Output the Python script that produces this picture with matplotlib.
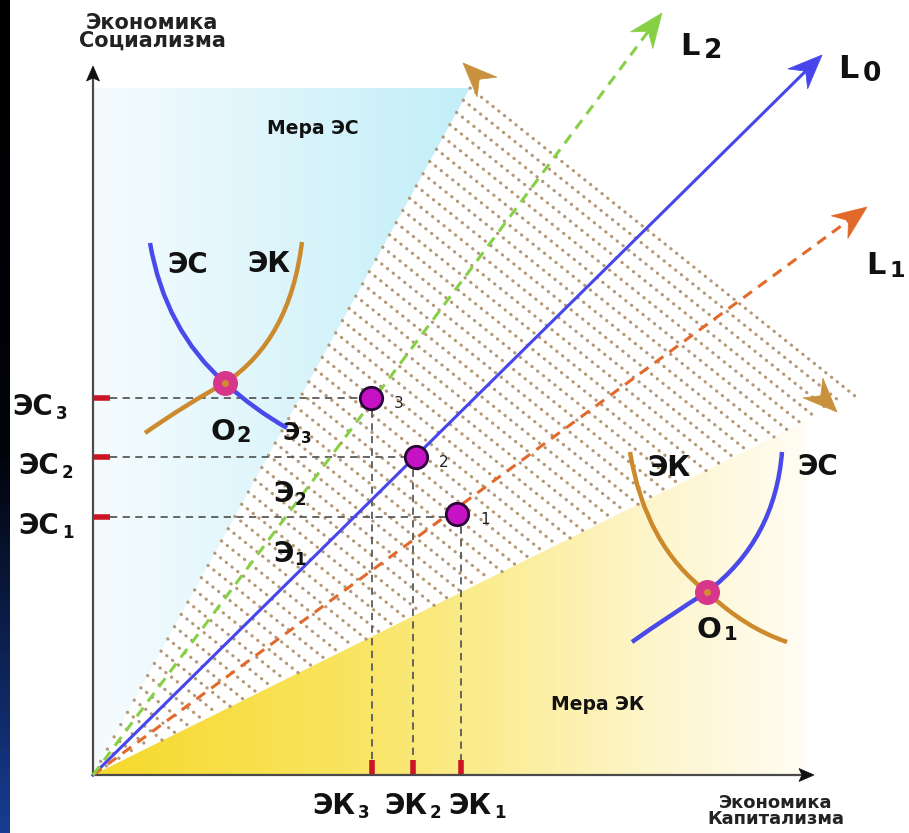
import numpy as np
import matplotlib
matplotlib.use("Agg")
import matplotlib.pyplot as plt
from matplotlib.path import Path
from matplotlib.patches import PathPatch, Polygon
from matplotlib.colors import LinearSegmentedColormap

plt.rcParams["font.family"] = ["DejaVu Sans"]

# diagram geometry (pixel coordinates, y grows downward)
origin = (93, 775)
y_axis_tip = (93, 66)
x_axis_tip = (814, 775)
cyan_apex = (470, 88)        # upper corner of "Мера ЭС"
yellow_end = (808, 420)      # right end of the "Мера ЭК" boundary

ray_names = ["L0", "L1", "L2"]
ray_tips = [(822, 55), (867, 207), (662, 13)]
ray_colors = ["#4646ec", "#e2692a", "#86d046"]

brown_tips = [(463, 63), (837, 412)]
brown_dirs = [(-1, -1), (1, 1)]

point_names = ["1", "2", "3"]
point_x = [457, 416, 371]
point_y = [514, 457, 398]
ek_ticks = [461, 413, 372]
es_ticks = [517, 457, 398]
ek_labels = ["1", "2", "3"]
es_labels = ["1", "2", "3"]

# indifference curves: start, control, O-point, control, end
o2_es = [(150, 243), (165, 330), (225, 383), (255, 410), (287, 428)]
o2_ek = [(302, 242), (290, 340), (225, 383), (185, 405), (145, 433)]
o1_ek = [(630, 452), (645, 545), (707, 592), (745, 628), (787, 642)]
o1_es = [(782, 452), (775, 540), (707, 592), (670, 615), (632, 642)]

W, H = 909, 833
ink = "#111111"

fig = plt.figure(figsize=(W / 100, H / 100), dpi=100)
ax = fig.add_axes([0, 0, 1, 1])
ax.set_xlim(0, W)
ax.set_ylim(H, 0)
ax.axis("off")
renderer = fig.canvas.get_renderer()

# dark strip on the left edge
strip = LinearSegmentedColormap.from_list("strip", [(0, "#000000"), (0.55, "#02040c"), (1, "#173c92")])
ax.imshow(np.linspace(0, 1, 200).reshape(-1, 1), cmap=strip, extent=(0, 10, H, 0),
          aspect="auto", zorder=0)

# "Мера ЭС" cyan wedge
cyan = LinearSegmentedColormap.from_list("cyan", ["#f6fcfe", "#dcf5fb", "#c2eef8"])
tri = Polygon([origin, (origin[0], cyan_apex[1]), cyan_apex], closed=True, fc="none", ec="none")
ax.add_patch(tri)
img = ax.imshow(np.linspace(0, 1, 200).reshape(1, -1), cmap=cyan,
                extent=(origin[0], cyan_apex[0], origin[1], cyan_apex[1]), aspect="auto", zorder=1)
img.set_clip_path(tri)

# "Мера ЭК" yellow wedge
yellow = LinearSegmentedColormap.from_list("yellow", [(0, "#f6d92c"), (0.35, "#f9e45e"),
                                                      (0.75, "#fdf4c4"), (1, "#fffdf4")])
tri2 = Polygon([origin, yellow_end, (yellow_end[0], origin[1])], closed=True, fc="none", ec="none")
ax.add_patch(tri2)
img2 = ax.imshow(np.linspace(0, 1, 200).reshape(1, -1), cmap=yellow,
                 extent=(origin[0], yellow_end[0], origin[1], yellow_end[1]), aspect="auto", zorder=1)
img2.set_clip_path(tri2)

# dotted hatching between the two wedges
o = np.array(origin, float)
a = np.array(cyan_apex, float)
e = np.array(yellow_end, float) - o
d = np.array([1.0, 0.8])
for t in np.linspace(0.02, 1.0, 56):
    p = o + t * (a - o)
    s, r = np.linalg.solve(np.column_stack([d, -e]), o - p)
    q = p + s * d
    ax.plot([p[0], q[0]], [p[1], q[1]], color="#a8875f", lw=2.3, alpha=0.85,
            ls=(0, (0.1, 2.2)), dash_capstyle="round", zorder=2)


def arrow_head(tip, direction, color, length=34, half=14, notch=11, z=6):
    u = np.array(direction, float)
    u /= np.hypot(*u)
    n = np.array([-u[1], u[0]])
    tip = np.array(tip, float)
    base = tip - u * length
    pts = [tip, base + n * half, tip - u * (length - notch), base - n * half]
    ax.add_patch(Polygon(pts, closed=True, fc=color, ec=color, lw=0.5, zorder=z))
    return tip - u * (length - notch)


for tip, dr in zip(brown_tips, brown_dirs):
    arrow_head(tip, dr, "#c8913e", z=3)

# guide lines to the axes
for px, py, ex, ey in zip(point_x, point_y, ek_ticks, es_ticks):
    ax.plot([110, px], [ey, ey], color="#5a5a5a", lw=1.3, ls=(0, (4, 3)), zorder=3)
    ax.plot([ex, ex], [py, 760], color="#5a5a5a", lw=1.3, ls=(0, (4, 3)), zorder=3)
    ax.plot([origin[0], 110], [ey, ey], color="#cc1424", lw=4, solid_capstyle="butt", zorder=4)
    ax.plot([ex, ex], [760, origin[1]], color="#cc1424", lw=4, solid_capstyle="butt", zorder=4)

# axes
ax.plot([origin[0], y_axis_tip[0]], [origin[1], y_axis_tip[1] + 10], color="#4a4a4a", lw=1.6, zorder=5)
ax.plot([origin[0], x_axis_tip[0] - 10], [origin[1], origin[1]], color="#4a4a4a", lw=1.6, zorder=5)
arrow_head(y_axis_tip, (0, -1), "#111111", length=15, half=6.5, notch=3)
arrow_head(x_axis_tip, (1, 0), "#111111", length=15, half=6.5, notch=3)

# rays L0, L1, L2
for name, tip, col in zip(ray_names, ray_tips, ray_colors):
    end = arrow_head(tip, np.subtract(tip, origin), col)
    style = "-" if name == "L0" else (0, (3.5, 2.5))
    ax.plot([origin[0], end[0]], [origin[1], end[1]], color=col, lw=2.2, ls=style, zorder=5)

# curves ЭС / ЭК around O2 and O1
codes = [Path.MOVETO, Path.CURVE3, Path.CURVE3, Path.CURVE3, Path.CURVE3]
for pts, col in [(o2_es, "#4a4aea"), (o2_ek, "#cd8a2c"), (o1_ek, "#cd8a2c"), (o1_es, "#4a4aea")]:
    ax.add_patch(PathPatch(Path(pts, codes), fc="none", ec=col, lw=3.2, capstyle="butt", zorder=7))

for pts in (o2_es, o1_es):
    ax.plot(*pts[2], "o", ms=17, mfc="#d8368a", mec="#d8368a", zorder=8)
    ax.plot(*pts[2], "o", ms=5, mfc="#d28a34", mec="none", zorder=9)

# equilibrium points 1, 2, 3
ax.scatter(point_x, point_y, s=260, c="#c412c4", edgecolors="#2a0636", linewidths=2, zorder=9)
for name, px, py in zip(point_names, point_x, point_y):
    ax.text(px + 23, py + 5, name, fontsize=11, color="#222222", ha="left", va="center", zorder=9)


def sub_text(x, y, main, sub, size, sub_size, gap=3, drop=4, z=10):
    t = ax.text(x, y, main, fontsize=size, fontweight="bold", color=ink,
                ha="left", va="baseline", zorder=z)
    w = t.get_window_extent(renderer).width
    ax.text(x + w + gap, y + drop, sub, fontsize=sub_size, fontweight="bold", color=ink,
            ha="left", va="baseline", zorder=z)


for ey, lab, lx in zip(es_ticks, es_labels, [18, 18, 12]):
    sub_text(lx, ey + 17, "ЭС", lab, 20, 12)
for ex, lab in zip(ek_ticks, ek_labels):
    sub_text(ex - 60 if lab == "3" else ex - 29 if lab == "2" else ex - 13, 814, "ЭК", lab, 20, 12)

sub_text(680, 55, "L", "2", 22, 19, gap=4, drop=3)
sub_text(838, 78, "L", "0", 23, 19, gap=4, drop=3)
sub_text(866, 274, "L", "1", 22, 16, gap=4, drop=3)
sub_text(210, 440, "O", "2", 21, 15, gap=2, drop=2)
sub_text(697, 638, "O", "1", 21, 14, gap=2, drop=2)
sub_text(273, 502, "Э", "2", 20, 12, gap=1, drop=3, z=6)
sub_text(273, 562, "Э", "1", 20, 12, gap=1, drop=3, z=6)
sub_text(283, 440, "Э", "3", 17, 11, gap=1, drop=3, z=6)

ax.text(167, 273, "ЭС", fontsize=20, fontweight="bold", color=ink, va="baseline", zorder=10)
ax.text(247, 272, "ЭК", fontsize=20, fontweight="bold", color=ink, va="baseline", zorder=10)
ax.text(647, 476, "ЭК", fontsize=20, fontweight="bold", color=ink, va="baseline", zorder=10)
ax.text(797, 475, "ЭС", fontsize=20, fontweight="bold", color=ink, va="baseline", zorder=10)

ax.text(313, 128, "Мера ЭС", fontsize=13.5, fontweight="bold", color=ink, ha="center", va="center", zorder=10)
ax.text(598, 705, "Мера ЭК", fontsize=13.5, fontweight="bold", color=ink, ha="center", va="center", zorder=10)

ax.text(152, 13, "Экономика\nСоциализма", fontsize=15, fontweight="bold", color="#222222",
        ha="center", va="top", linespacing=0.85, zorder=10)
ax.text(776, 794, "Экономика\nКапитализма", fontsize=13, fontweight="bold", color="#222222",
        ha="center", va="top", linespacing=0.85, zorder=10)

fig.savefig("out.png", dpi=100)
